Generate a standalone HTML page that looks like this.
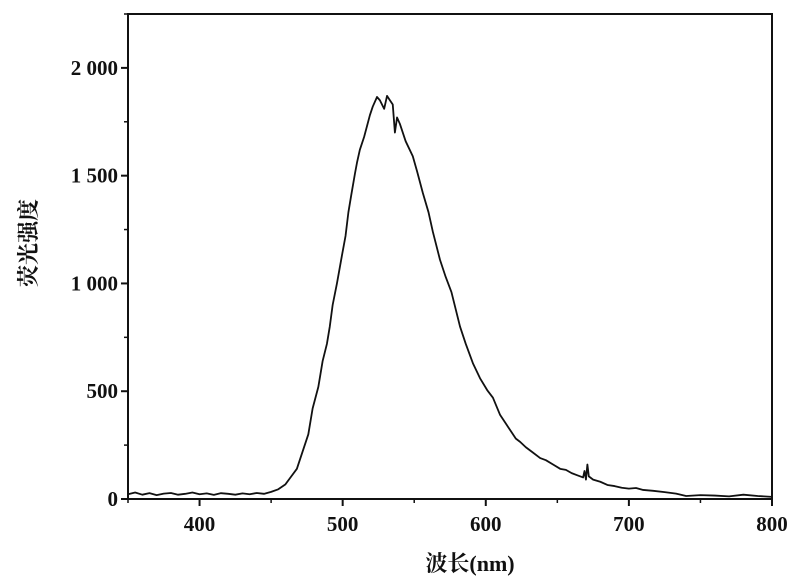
<!DOCTYPE html>
<html><head><meta charset="utf-8">
<style>
html,body{margin:0;padding:0;background:#fff;}
svg{display:block;}
text{font-family:"Liberation Serif","Noto Serif CJK SC",serif;font-weight:bold;fill:#111;}
</style></head>
<body>
<svg id="chart" width="804" height="583" viewBox="0 0 804 583">
  <g id="axes"></g>
  <g id="series"></g>
  <text x="470" y="571" font-size="22" text-anchor="middle">波长(nm)</text>
  <text transform="translate(36,243) rotate(-90)" font-size="22" text-anchor="middle">荧光强度</text>
</svg>
<script>
const wavelengths = [350,355,360,365,370,375,380,385,390,395,400,405,410,415,420,425,430,435,440,445,450,455,460,463,468,472,476,479,483,486,489,491,493,496,499.5,502,504,506,508.6,510,512,515,517,519,521,524,526,529,531,533,535,536.5,538,540,544,549,552,556,560,563,568,572,576,579,582,586,591,596,601,605,610,614,617,621,624,628,633,638,642,647,652,656,660,664,668,669,670,671,672,675,680,685,690,695,700,705,710,717,725,733,740,750,760,770,780,790,800];
const intensity = [22,30,20,27,18,25,28,20,24,30,22,26,19,27,24,20,26,22,28,24,33,45,68,95,140,220,300,420,520,640,720,800,900,1000,1130,1220,1330,1410,1510,1560,1620,1680,1730,1780,1820,1865,1850,1810,1870,1850,1830,1700,1770,1740,1660,1590,1520,1420,1330,1240,1110,1030,960,880,800,720,630,560,505,470,390,350,320,280,265,240,215,190,180,160,140,135,120,110,100,130,90,160,105,90,80,65,60,52,48,51,42,38,32,25,14,18,16,12,20,14,10,18,15];
const xTicks = [400,500,600,700,800];
const xTickLabels = ["400","500","600","700","800"];
const yTicks = [0,500,1000,1500,2000];
const yTickLabels = ["0","500","1 000","1 500","2 000"];
const xMin=350,xMax=800,yMin=0,yMax=2250;
const L=128,R=772,T=14,B=499;
const sx=v=>L+(v-xMin)/(xMax-xMin)*(R-L);
const sy=v=>B-(v-yMin)/(yMax-yMin)*(B-T);
const NS="http://www.w3.org/2000/svg";
const axes=document.getElementById('axes');
const frame=document.createElementNS(NS,'rect');
frame.setAttribute('x',L);frame.setAttribute('y',T);frame.setAttribute('width',R-L);frame.setAttribute('height',B-T);
frame.setAttribute('fill','none');frame.setAttribute('stroke','#111');frame.setAttribute('stroke-width','2');


axes.appendChild(frame);
xTicks.forEach((v,i)=>{
  const t=document.createElementNS(NS,'line');
  t.setAttribute('x1',sx(v));t.setAttribute('x2',sx(v));t.setAttribute('y1',B);t.setAttribute('y2',B+7);
  t.setAttribute('stroke','#111');t.setAttribute('stroke-width','2');
  
  
  axes.appendChild(t);
  const m=document.createElementNS(NS,'line');
  m.setAttribute('x1',sx(v-50));m.setAttribute('x2',sx(v-50));m.setAttribute('y1',B);m.setAttribute('y2',B+4);
  m.setAttribute('stroke','#111');m.setAttribute('stroke-width','1.5');
  
  
  axes.appendChild(m);
  const l=document.createElementNS(NS,'text');
  l.setAttribute('x',sx(v));l.setAttribute('y',B+32);l.setAttribute('font-size','21');l.setAttribute('text-anchor','middle');
  l.textContent=xTickLabels[i];
  
  
  axes.appendChild(l);
});
yTicks.forEach((v,i)=>{
  const t=document.createElementNS(NS,'line');
  t.setAttribute('x1',L-7);t.setAttribute('x2',L);t.setAttribute('y1',sy(v));t.setAttribute('y2',sy(v));
  t.setAttribute('stroke','#111');t.setAttribute('stroke-width','2');
  
  
  axes.appendChild(t);
  const m=document.createElementNS(NS,'line');
  m.setAttribute('x1',L-4);m.setAttribute('x2',L);m.setAttribute('y1',sy(v+250));m.setAttribute('y2',sy(v+250));
  m.setAttribute('stroke','#111');m.setAttribute('stroke-width','1.5');
  
  
  axes.appendChild(m);
  const l=document.createElementNS(NS,'text');
  l.setAttribute('x',L-10);l.setAttribute('y',sy(v)+7);l.setAttribute('font-size','21');l.setAttribute('text-anchor','end');
  l.textContent=yTickLabels[i];
  
  
  axes.appendChild(l);
});
const pl=document.createElementNS(NS,'polyline');
pl.setAttribute('points',wavelengths.map((w,i)=>sx(w)+','+sy(intensity[i])).join(' '));
pl.setAttribute('fill','none');pl.setAttribute('stroke','#111');pl.setAttribute('stroke-width','1.8');pl.setAttribute('stroke-linejoin','round');


document.getElementById('series').appendChild(pl);
</script>
</body></html>
